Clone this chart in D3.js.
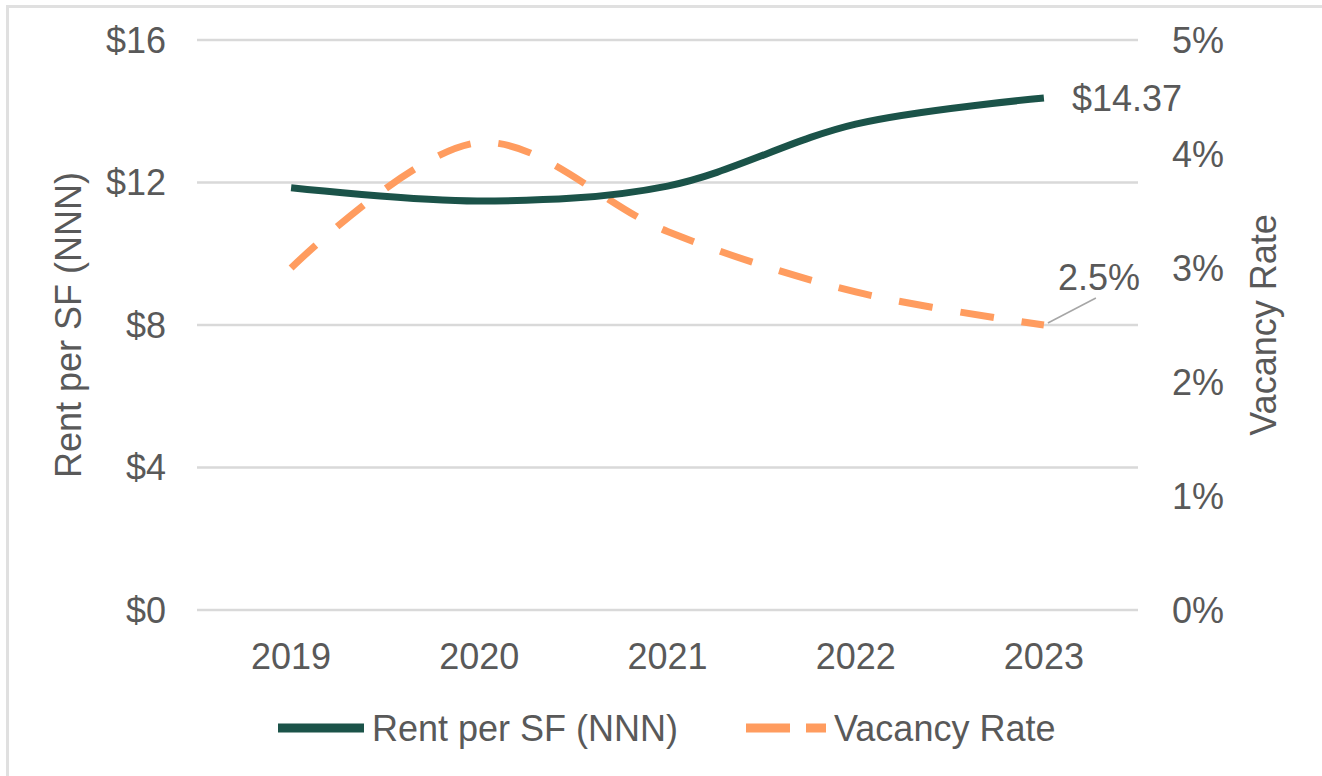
<!DOCTYPE html>
<html>
<head>
<meta charset="utf-8">
<script src="https://d3js.org/d3.v7.min.js"></script>
<style>
  body { margin: 0; background: #fff; }
  text { font-family: "Liberation Sans", Arial, sans-serif; fill: #595959; }
</style>
</head>
<body>
<div id="chart"></div>
<script>
// data
var years = ["2019", "2020", "2021", "2022", "2023"];
var rent = [11.85, 11.48, 11.9, 13.64, 14.37];
var vacancy = [3.0, 4.1, 3.32, 2.79, 2.5];
var rentTicks = [0, 4, 8, 12, 16];
var vacTicks = [0, 1, 2, 3, 4, 5];

var width = 1322, height = 776;
var plotLeft = 197, plotRight = 1138, plotTop = 40, plotBottom = 610;
var fontSize = 36;

var svg = d3.select("#chart").append("svg")
    .attr("width", width)
    .attr("height", height);

// frame (only left and top edges visible)
svg.append("rect")
    .attr("x", 7.5).attr("y", 6.5)
    .attr("width", width + 20).attr("height", height + 20)
    .attr("fill", "none")
    .attr("stroke", "#e0e0e0")
    .attr("stroke-width", 3);

var x = d3.scaleBand().domain(years).range([plotLeft, plotRight]);
var yL = d3.scaleLinear().domain([0, 16]).range([plotBottom, plotTop]);
var yR = d3.scaleLinear().domain([0, 5]).range([plotBottom, plotTop]);

// gridlines
svg.append("g").selectAll("line")
    .data(rentTicks)
    .enter().append("line")
    .attr("x1", plotLeft).attr("x2", plotRight)
    .attr("y1", function(d) { return yL(d); })
    .attr("y2", function(d) { return yL(d); })
    .attr("stroke", "#d9d9d9")
    .attr("stroke-width", 2.5);

// left axis labels
svg.append("g").selectAll("text")
    .data(rentTicks)
    .enter().append("text")
    .attr("x", 166)
    .attr("y", function(d) { return yL(d); })
    .attr("dy", "0.35em")
    .style("text-anchor", "end")
    .style("font-size", fontSize + "px")
    .text(function(d) { return "$" + d; });

// right axis labels
svg.append("g").selectAll("text")
    .data(vacTicks)
    .enter().append("text")
    .attr("x", 1172)
    .attr("y", function(d) { return yR(d); })
    .attr("dy", "0.35em")
    .style("text-anchor", "start")
    .style("font-size", fontSize + "px")
    .text(function(d) { return d + "%"; });

// x labels
svg.append("g").selectAll("text")
    .data(years)
    .enter().append("text")
    .attr("x", function(d) { return x(d) + x.bandwidth() / 2; })
    .attr("y", 656)
    .attr("dy", "0.35em")
    .style("text-anchor", "middle")
    .style("font-size", fontSize + "px")
    .text(function(d) { return d; });

// axis titles
svg.append("text")
    .attr("transform", "translate(68," + (plotTop + plotBottom) / 2 + ") rotate(-90)")
    .attr("dy", "0.35em")
    .style("text-anchor", "middle")
    .style("font-size", fontSize + "px")
    .text("Rent per SF (NNN)");

svg.append("text")
    .attr("transform", "translate(1263," + (plotTop + plotBottom) / 2 + ") rotate(-90)")
    .attr("dy", "0.35em")
    .style("text-anchor", "middle")
    .style("font-size", fontSize + "px")
    .text("Vacancy Rate");

var cx = function(d, i) { return x(years[i]) + x.bandwidth() / 2; };

var rentLine = d3.line()
    .x(cx)
    .y(function(d) { return yL(d); })
    .curve(d3.curveCatmullRom.alpha(0.5));

var vacLine = d3.line()
    .x(cx)
    .y(function(d) { return yR(d); })
    .curve(d3.curveCatmullRom.alpha(0.5));

svg.append("path")
    .attr("d", vacLine(vacancy))
    .attr("fill", "none")
    .attr("stroke", "#ff9c5f")
    .attr("stroke-width", 7)
    .attr("stroke-dasharray", "34,28");

svg.append("path")
    .attr("d", rentLine(rent))
    .attr("fill", "none")
    .attr("stroke", "#1b5349")
    .attr("stroke-width", 7);

// data labels for last points
var lastX = cx(null, years.length - 1);
svg.append("text")
    .attr("x", lastX + 28)
    .attr("y", yL(rent[rent.length - 1]))
    .attr("dy", "0.35em")
    .style("font-size", fontSize + "px")
    .text("$" + rent[rent.length - 1].toFixed(2));

var vy = yR(vacancy[vacancy.length - 1]);
svg.append("line")
    .attr("x1", lastX + 4).attr("y1", vy - 2)
    .attr("x2", lastX + 52).attr("y2", vy - 27)
    .attr("stroke", "#a6a6a6")
    .attr("stroke-width", 1.5);

svg.append("text")
    .attr("x", lastX + 14)
    .attr("y", vy - 48)
    .attr("dy", "0.35em")
    .style("font-size", fontSize + "px")
    .text(vacancy[vacancy.length - 1].toFixed(1) + "%");

// legend
var lg = svg.append("g");
lg.append("line")
    .attr("x1", 278).attr("x2", 364)
    .attr("y1", 728).attr("y2", 728)
    .attr("stroke", "#1b5349")
    .attr("stroke-width", 9);
lg.append("text")
    .attr("x", 372).attr("y", 728)
    .attr("dy", "0.35em")
    .style("font-size", fontSize + "px")
    .text("Rent per SF (NNN)");
lg.append("line")
    .attr("x1", 746).attr("x2", 826)
    .attr("y1", 728).attr("y2", 728)
    .attr("stroke", "#ff9c5f")
    .attr("stroke-width", 9)
    .attr("stroke-dasharray", "44,16");
lg.append("text")
    .attr("x", 834).attr("y", 728)
    .attr("dy", "0.35em")
    .style("font-size", fontSize + "px")
    .text("Vacancy Rate");
</script>
</body>
</html>
